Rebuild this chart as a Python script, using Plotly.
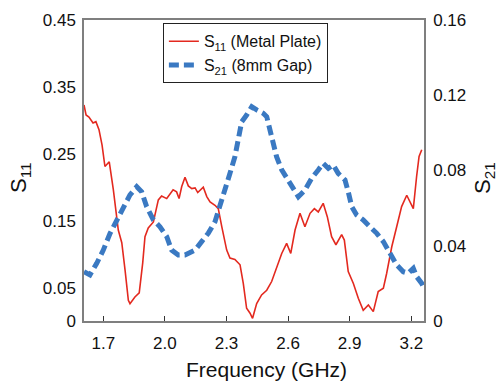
import plotly.graph_objects as go

# S11 (Metal Plate) - left axis
s11_freq = [1.606, 1.616, 1.630, 1.650, 1.664, 1.679, 1.694, 1.708, 1.729, 1.749,
            1.773, 1.790, 1.806, 1.822, 1.830, 1.854, 1.875, 1.892, 1.903, 1.919,
            1.944, 1.968, 1.984, 2.009, 2.040, 2.057, 2.069, 2.082, 2.098, 2.114,
            2.131, 2.147, 2.160, 2.187, 2.204, 2.220, 2.244, 2.260, 2.277, 2.301,
            2.317, 2.341, 2.366, 2.382, 2.398, 2.414, 2.427, 2.447, 2.471, 2.496,
            2.520, 2.544, 2.569, 2.593, 2.613, 2.634, 2.658, 2.682, 2.707, 2.728,
            2.747, 2.771, 2.791, 2.812, 2.833, 2.861, 2.874, 2.893, 2.918, 2.942,
            2.966, 2.991, 3.015, 3.039, 3.064, 3.080, 3.105, 3.129, 3.153, 3.178,
            3.194, 3.210, 3.226, 3.238, 3.251]
s11_vals = [0.323, 0.308, 0.305, 0.296, 0.298, 0.286, 0.263, 0.231, 0.238, 0.196,
            0.136, 0.117, 0.076, 0.031, 0.026, 0.036, 0.042, 0.087, 0.126, 0.139,
            0.148, 0.181, 0.187, 0.183, 0.196, 0.193, 0.183, 0.201, 0.215, 0.202,
            0.198, 0.199, 0.192, 0.200, 0.186, 0.178, 0.173, 0.168, 0.141, 0.106,
            0.094, 0.092, 0.084, 0.056, 0.019, 0.012, 0.004, 0.026, 0.039, 0.046,
            0.059, 0.081, 0.101, 0.116, 0.101, 0.136, 0.161, 0.141, 0.161, 0.168,
            0.163, 0.176, 0.156, 0.126, 0.114, 0.129, 0.121, 0.074, 0.056, 0.034,
            0.016, 0.024, 0.014, 0.044, 0.049, 0.071, 0.111, 0.141, 0.171, 0.188,
            0.178, 0.168, 0.216, 0.246, 0.256]

# S21 (8mm Gap) - right axis
s21_freq = [1.606, 1.635, 1.668, 1.700, 1.733, 1.765, 1.797, 1.830, 1.863, 1.887,
            1.911, 1.944, 1.976, 2.009, 2.033, 2.065, 2.098, 2.147, 2.179, 2.211,
            2.244, 2.268, 2.293, 2.317, 2.341, 2.357, 2.374, 2.398, 2.423, 2.447,
            2.479, 2.496, 2.512, 2.528, 2.544, 2.569, 2.593, 2.618, 2.650, 2.682,
            2.715, 2.747, 2.771, 2.796, 2.820, 2.844, 2.877, 2.893, 2.910, 2.934,
            2.966, 2.999, 3.032, 3.064, 3.096, 3.129, 3.161, 3.185, 3.210, 3.226,
            3.251, 3.262]
s21_vals = [0.0262, 0.0245, 0.0307, 0.0377, 0.0466, 0.0537, 0.0608, 0.0670, 0.0714, 0.0687,
            0.0608, 0.0537, 0.0501, 0.0448, 0.0377, 0.0351, 0.0351, 0.0377, 0.0422, 0.0466,
            0.0528, 0.0608, 0.0696, 0.0785, 0.0873, 0.0980, 0.1059, 0.1095, 0.1139, 0.1122,
            0.1104, 0.1086, 0.1015, 0.0945, 0.0873, 0.0803, 0.0759, 0.0723, 0.0661, 0.0696,
            0.0759, 0.0803, 0.0838, 0.0812, 0.0829, 0.0785, 0.0750, 0.0687, 0.0608, 0.0563,
            0.0537, 0.0501, 0.0466, 0.0422, 0.0360, 0.0298, 0.0262, 0.0254, 0.0280, 0.0236,
            0.0200, 0.0174]

x_ticks = [1.7, 2.0, 2.3, 2.6, 2.9, 3.2]
x_ticktext = ["1.7", "2.0", "2.3", "2.6", "2.9", "3.2"]
y1_ticks = [0, 0.05, 0.15, 0.25, 0.35, 0.45]
y1_ticktext = ["0", "0.05", "0.15", "0.25", "0.35", "0.45"]
y2_ticks = [0, 0.04, 0.08, 0.12, 0.16]
y2_ticktext = ["0", "0.04", "0.08", "0.12", "0.16"]

RED = "#e3291f"
BLUE = "#3a79c2"
FRAME = "#7f7f7f"
FONT = "Liberation Sans, Arial, sans-serif"

fig = go.Figure()
fig.add_trace(go.Scatter(
    x=s21_freq, y=s21_vals, yaxis="y2", mode="lines",
    name="S<sub>21</sub> (8mm Gap)", legendrank=2,
    line=dict(color=BLUE, width=5, dash="10px,5px"),
))
fig.add_trace(go.Scatter(
    x=s11_freq, y=s11_vals, mode="lines",
    name="S<sub>11</sub> (Metal Plate)", legendrank=1,
    line=dict(color=RED, width=1.6),
))

fig.update_layout(
    width=497, height=383,
    margin=dict(l=84, r=73, t=20, b=62),
    paper_bgcolor="white", plot_bgcolor="white",
    font=dict(family=FONT, size=17, color="#111"),
    showlegend=True,
    legend=dict(
        x=0.232, y=0.989, xanchor="left", yanchor="top",
        bgcolor="white", bordercolor="#222", borderwidth=1,
        font=dict(size=16, family=FONT),
        tracegroupgap=0, itemwidth=30,
    ),
    xaxis=dict(
        range=[1.606, 3.262], tickvals=x_ticks, ticktext=x_ticktext,
        showline=True, linecolor=FRAME, linewidth=1.5, mirror=True,
        ticks="inside", ticklen=5, tickcolor="#333",
        showgrid=False, zeroline=False, ticklabelstandoff=6,
    ),
    yaxis=dict(
        range=[0, 0.45], tickvals=y1_ticks, ticktext=y1_ticktext,
        showline=True, linecolor=FRAME, linewidth=1.5,
        ticks="", showgrid=False, zeroline=False, ticklabelstandoff=3,
    ),
    yaxis2=dict(
        range=[0, 0.16], tickvals=y2_ticks, ticktext=y2_ticktext,
        overlaying="y", side="right",
        showline=True, linecolor=FRAME, linewidth=1.5,
        ticks="", showgrid=False, zeroline=False, ticklabelstandoff=4,
    ),
    annotations=[
        dict(text="Frequency (GHz)", xref="paper", yref="paper",
             x=(266 - 84) / 340, y=-(369 - 321) / 301, xanchor="center", yanchor="middle",
             showarrow=False, font=dict(size=21, family=FONT)),
        dict(text="S<sub>11</sub>", xref="paper", yref="paper",
             x=-(84 - 20) / 340, y=(321 - 178) / 301, xanchor="center", yanchor="middle",
             textangle=-90, showarrow=False, font=dict(size=22, family=FONT)),
        dict(text="S<sub>21</sub>", xref="paper", yref="paper",
             x=1 + (484 - 424) / 340, y=(321 - 178) / 301, xanchor="center", yanchor="middle",
             textangle=-90, showarrow=False, font=dict(size=22, family=FONT)),
    ],
)

fig.write_html("out.html")
